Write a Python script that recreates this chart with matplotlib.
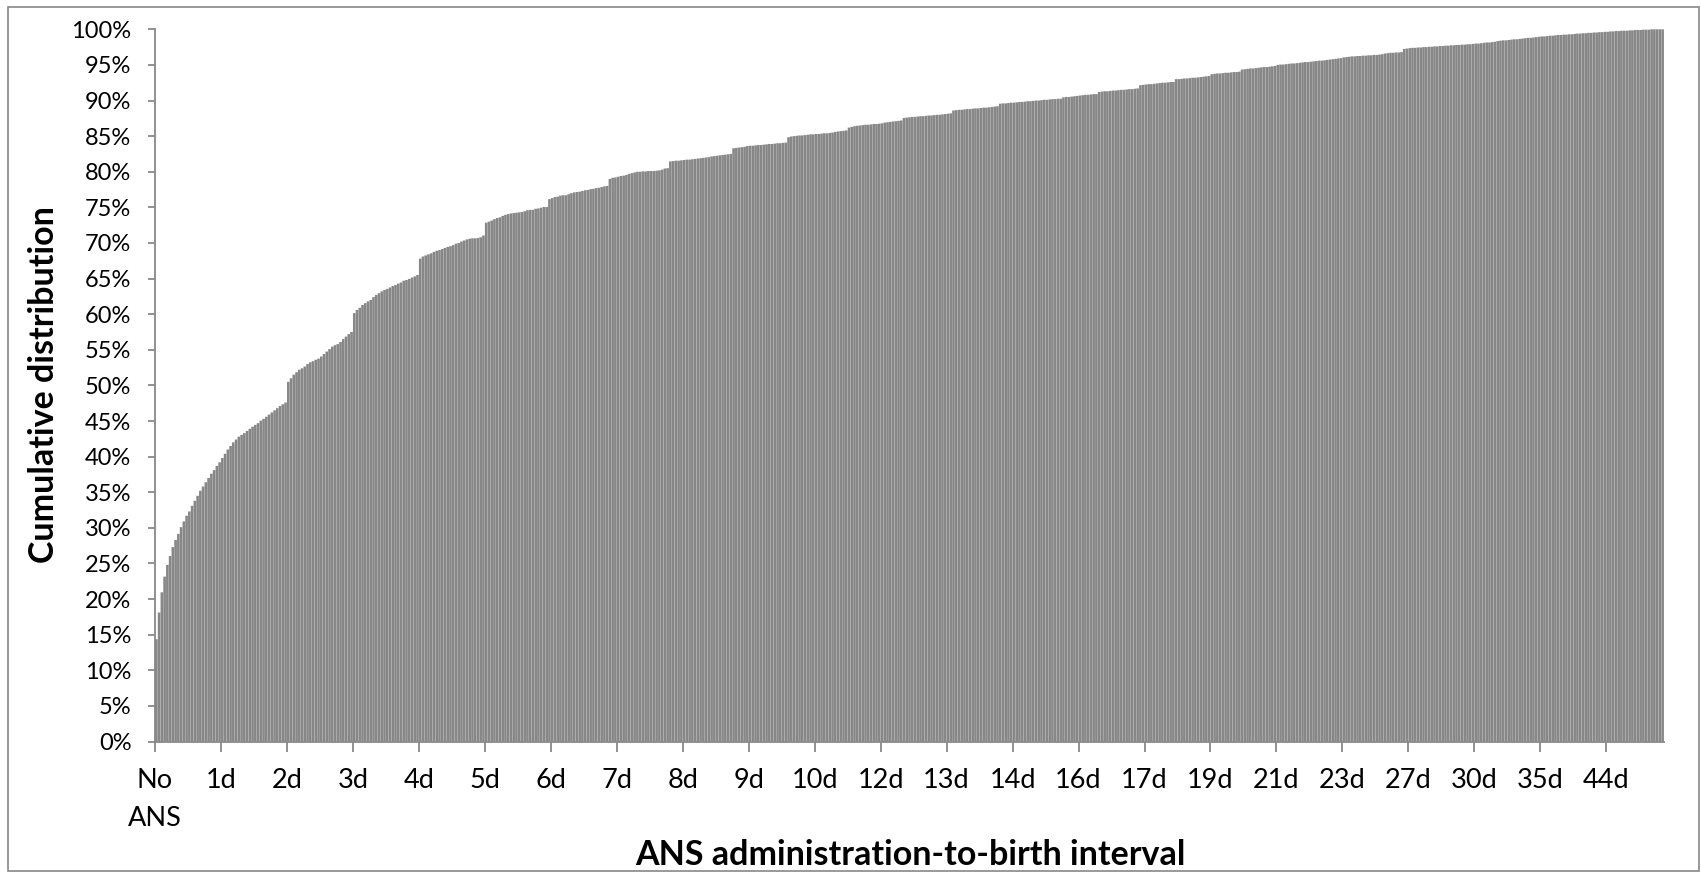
import matplotlib
matplotlib.use("Agg")
import matplotlib.pyplot as plt
import numpy as np
from matplotlib.patches import Rectangle
from matplotlib.ticker import FuncFormatter, MultipleLocator

plt.rcParams["font.family"] = ["Lato", "DejaVu Sans"]

# cumulative share (%) of births per interval category, read bar by bar
cumulative_pct = [
    14.35, 18.1, 20.95, 23.15, 24.8, 26.05, 27.3, 28.3, 29.15, 30.1, 30.9, 31.7, 32.3, 33.1, 33.8, 34.5, 35.2, 35.8, 36.4, 37.0, 37.6, 38.1, 38.7, 39.2,
    39.8, 40.4, 41.0, 41.5, 42.0, 42.4, 42.8, 43.05, 43.3, 43.6, 43.9, 44.2, 44.45, 44.7, 45.05, 45.3, 45.6, 45.9, 46.2, 46.5, 46.8, 47.1, 47.35, 47.6,
    50.5, 51.0, 51.5, 51.85, 52.2, 52.4, 52.65, 53.0, 53.25, 53.4, 53.6, 53.75, 54.05, 54.4, 54.75, 55.1, 55.45, 55.65, 55.8, 56.1, 56.5, 56.85, 57.2, 57.5,
    60.15, 60.6, 60.9, 61.3, 61.55, 61.8, 62.0, 62.4, 62.7, 62.95, 63.2, 63.4, 63.55, 63.75, 63.95, 64.1, 64.3, 64.45, 64.7, 64.8, 64.95, 65.15, 65.3, 65.5,
    67.8, 68.1, 68.25, 68.4, 68.55, 68.75, 68.9, 69.0, 69.15, 69.3, 69.45, 69.55, 69.7, 69.9, 70.0, 70.2, 70.35, 70.5, 70.6, 70.65, 70.65, 70.7, 70.8, 71.05,
    72.85, 73.0, 73.15, 73.35, 73.5, 73.6, 73.8, 73.95, 74.05, 74.15, 74.2, 74.25, 74.3, 74.35, 74.45, 74.6, 74.65, 74.65, 74.8, 74.85, 74.95, 75.05, 75.05, 76.15,
    76.3, 76.45, 76.5, 76.65, 76.7, 76.7, 76.85, 77.0, 77.1, 77.15, 77.2, 77.3, 77.4, 77.45, 77.55, 77.6, 77.7, 77.75, 77.85, 77.95, 78.0, 79.0, 79.15, 79.2,
    79.3, 79.4, 79.45, 79.55, 79.7, 79.8, 79.9, 80.0, 80.0, 80.05, 80.05, 80.1, 80.1, 80.1, 80.15, 80.2, 80.3, 80.45, 80.5, 81.45, 81.5, 81.55, 81.55, 81.6,
    81.65, 81.7, 81.7, 81.75, 81.8, 81.85, 81.9, 81.95, 82.0, 82.05, 82.15, 82.2, 82.25, 82.3, 82.35, 82.4, 82.45, 82.5, 83.3, 83.35, 83.4, 83.45, 83.5, 83.6,
    83.65, 83.65, 83.7, 83.75, 83.75, 83.8, 83.85, 83.9, 83.9, 83.95, 84.0, 84.0, 84.05, 84.1, 84.85, 84.95, 85.0, 85.05, 85.1, 85.1, 85.15, 85.2, 85.25, 85.25,
    85.3, 85.3, 85.35, 85.4, 85.4, 85.45, 85.5, 85.6, 85.65, 85.7, 85.75, 85.8, 86.2, 86.3, 86.4, 86.45, 86.5, 86.55, 86.6, 86.6, 86.65, 86.7, 86.7, 86.75,
    86.8, 86.9, 86.95, 87.0, 87.05, 87.1, 87.15, 87.2, 87.55, 87.6, 87.65, 87.7, 87.7, 87.75, 87.8, 87.8, 87.85, 87.9, 87.9, 87.95, 88.0, 88.0, 88.05, 88.1,
    88.15, 88.2, 88.6, 88.65, 88.7, 88.7, 88.75, 88.8, 88.8, 88.85, 88.9, 88.9, 88.95, 89.0, 89.0, 89.05, 89.1, 89.15, 89.2, 89.55, 89.6, 89.6, 89.65, 89.7,
    89.7, 89.75, 89.8, 89.8, 89.85, 89.9, 89.9, 89.95, 90.0, 90.0, 90.05, 90.1, 90.1, 90.15, 90.2, 90.2, 90.25, 90.25, 90.45, 90.5, 90.5, 90.55, 90.6, 90.65,
    90.7, 90.75, 90.8, 90.8, 90.85, 90.9, 90.9, 91.2, 91.25, 91.3, 91.3, 91.35, 91.4, 91.4, 91.45, 91.5, 91.5, 91.55, 91.6, 91.6, 91.65, 91.7, 92.15, 92.2,
    92.25, 92.3, 92.3, 92.35, 92.4, 92.45, 92.5, 92.5, 92.55, 92.6, 92.6, 93.0, 93.0, 93.05, 93.1, 93.1, 93.15, 93.2, 93.2, 93.25, 93.3, 93.35, 93.4, 93.45,
    93.7, 93.75, 93.8, 93.8, 93.85, 93.9, 93.9, 93.95, 94.0, 94.0, 94.05, 94.35, 94.4, 94.45, 94.5, 94.5, 94.55, 94.6, 94.65, 94.7, 94.7, 94.75, 94.8, 94.85,
    95.0, 95.05, 95.05, 95.1, 95.15, 95.2, 95.2, 95.25, 95.3, 95.35, 95.4, 95.4, 95.45, 95.5, 95.55, 95.6, 95.6, 95.65, 95.7, 95.75, 95.8, 95.85, 95.9, 95.95,
    96.05, 96.1, 96.15, 96.2, 96.2, 96.25, 96.25, 96.3, 96.3, 96.35, 96.35, 96.4, 96.4, 96.45, 96.5, 96.6, 96.65, 96.7, 96.7, 96.75, 96.75, 96.8, 97.25, 97.3,
    97.35, 97.4, 97.4, 97.45, 97.45, 97.5, 97.5, 97.55, 97.55, 97.6, 97.6, 97.65, 97.65, 97.7, 97.7, 97.75, 97.75, 97.8, 97.8, 97.85, 97.85, 97.9, 97.9, 97.95,
    98.0, 98.0, 98.05, 98.1, 98.15, 98.15, 98.2, 98.25, 98.35, 98.4, 98.45, 98.45, 98.5, 98.55, 98.6, 98.6, 98.65, 98.7, 98.75, 98.8, 98.8, 98.85, 98.9, 98.95,
    99.0, 99.0, 99.05, 99.1, 99.1, 99.15, 99.2, 99.2, 99.25, 99.25, 99.3, 99.3, 99.35, 99.4, 99.4, 99.45, 99.45, 99.5, 99.5, 99.55, 99.55, 99.6, 99.6, 99.65,
    99.65, 99.7, 99.7, 99.75, 99.75, 99.8, 99.8, 99.8, 99.85, 99.85, 99.9, 99.9, 99.9, 99.95, 99.95, 99.95, 100.0, 100.0, 100.0, 100.0, 100.0,
]

interval_labels = [
    "No\nANS", "1d", "2d", "3d", "4d", "5d", "6d", "7d", "8d", "9d", "10d", "12d",
    "13d", "14d", "16d", "17d", "19d", "21d", "23d", "27d", "30d", "35d", "44d",
]
bars_per_label = 24

bar_color = "#878787"
axis_color = "#888888"

W, H = 1701, 874
fig = plt.figure(figsize=(W / 100, H / 100), dpi=100)
ax = fig.add_axes([155 / W, 1 - 741.5 / H, (1664 - 155) / W, (741.5 - 29.3) / H])

x = np.arange(len(cumulative_pct))
ax.bar(x, cumulative_pct, width=0.95, color=bar_color, linewidth=0, snap=False)

ax.set_xlim(-0.5, len(x) - 0.5)
ax.set_ylim(0, 100)
ax.yaxis.set_major_locator(MultipleLocator(5))
ax.yaxis.set_major_formatter(FuncFormatter(lambda v, _: f"{v:.0f}%"))
ax.set_xticks(np.arange(len(interval_labels)) * bars_per_label - 0.5)
ax.set_xticklabels(interval_labels)

for side in ("top", "right"):
    ax.spines[side].set_visible(False)
for side in ("left", "bottom"):
    ax.spines[side].set_color(axis_color)
    ax.spines[side].set_linewidth(1.3)

ax.tick_params(axis="y", length=5, width=1.3, color=axis_color, pad=12, labelsize=17)
ax.tick_params(axis="x", length=7, width=1.3, color=axis_color, pad=12, labelsize=19.5)
for label in ax.get_xticklabels():
    label.set_linespacing(1.65)

fig.text(910 / W, 1 - 865 / H, "ANS administration-to-birth interval",
         ha="center", va="baseline", fontsize=24.5, fontweight="bold")
fig.text(54 / W, 1 - 385 / H, "Cumulative distribution", rotation=90,
         rotation_mode="anchor", ha="center", va="baseline", fontsize=24.5, fontweight="bold")

fig.patches.append(Rectangle((8 / W, 3 / H), (1699 - 8) / W, (871 - 7) / H,
                             transform=fig.transFigure, fill=False,
                             edgecolor=axis_color, linewidth=1.2))

fig.savefig("out.png", dpi=100)
plt.close(fig)
